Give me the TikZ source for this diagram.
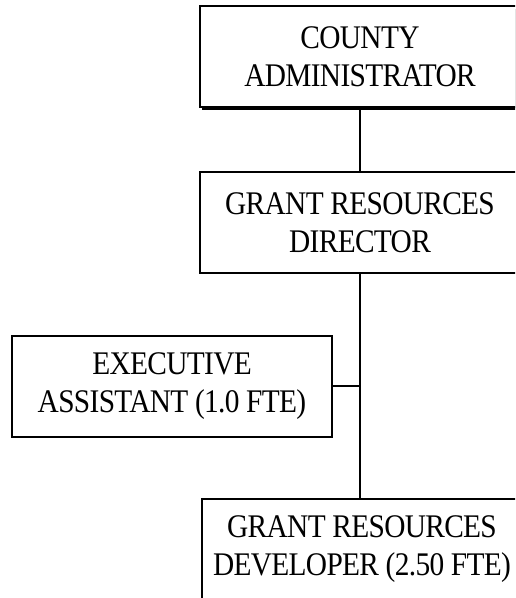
\documentclass[tikz,border=0pt]{standalone}
\usepackage{fontspec}
\setmainfont{Liberation Serif}[FakeStretch=0.89,LetterSpace=-2]
\usetikzlibrary{shadows}
\begin{document}
\begin{tikzpicture}[x=1pt,y=-1pt,
  orgbox/.style={draw=black,line width=2pt,fill=white,rectangle,
    minimum width=320pt,minimum height=101pt,inner sep=0pt,align=center,
    font=\fontsize{33}{38}\selectfont},
  link/.style={draw=black,line width=2pt},
  thinlink/.style={draw=black,line width=1.3pt}]
\useasboundingbox (0,0) rectangle (515,598);
\clip (0,0) rectangle (515,598);

% boxes of the chart
\node[orgbox,drop shadow={shadow xshift=2pt,shadow yshift=-3pt,fill=black,opacity=1}]
  (admin) at (360,56.5) {COUNTY\\ADMINISTRATOR};
\node[orgbox] (director) at (360,222.5) {GRANT RESOURCES\\DIRECTOR};
\node[orgbox] (assistant) at (172,386) {EXECUTIVE\\ASSISTANT (1.0 FTE)};
\node[orgbox] (developer) at (362,549.5) {GRANT RESOURCES\\DEVELOPER (2.50 FTE)};

% reporting lines
\coordinate (junction) at (director.south |- assistant.east);
\draw[link] (admin.south -| director.north) -- (director.north);
\draw[link] (director.south) -- (junction);
\draw[link] (assistant.east) -- (junction);
\draw[thinlink] (junction) -- (junction |- developer.north);
\end{tikzpicture}
\end{document}
